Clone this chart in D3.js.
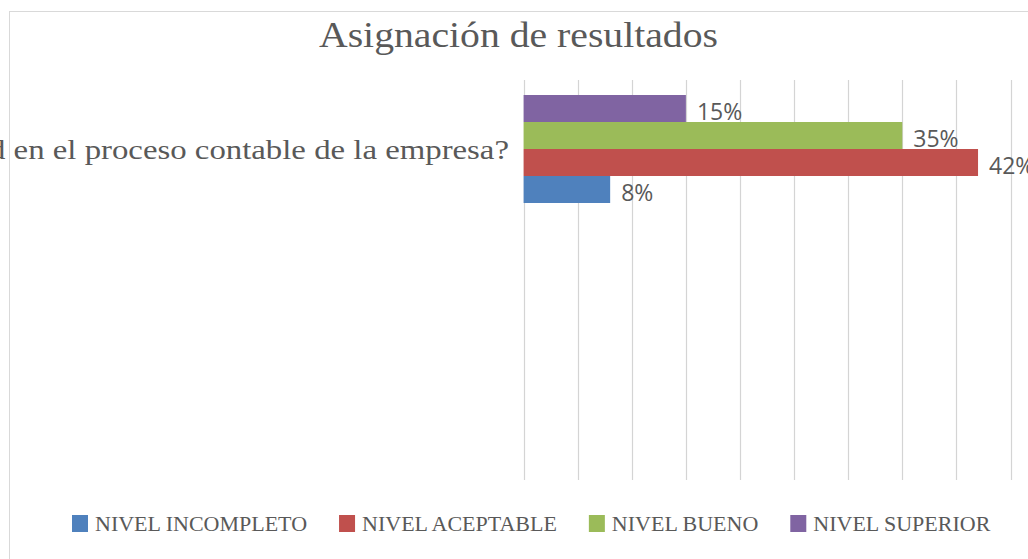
<!DOCTYPE html>
<html>
<head>
<meta charset="utf-8">
<script src="https://cdn.jsdelivr.net/npm/d3@7"></script>
<style>
  html, body { margin: 0; padding: 0; background: #ffffff; }
  svg { display: block; }
</style>
</head>
<body>
<div id="chart"></div>
<script>
// data
const categories = ['d en el proceso contable de la empresa?'];
const seriesNames = ['NIVEL INCOMPLETO', 'NIVEL ACEPTABLE', 'NIVEL BUENO', 'NIVEL SUPERIOR'];
const seriesColors = ['#4f81bd', '#c0504d', '#9bbb59', '#8064a2'];
const seriesValues = [0.08, 0.42, 0.35, 0.15];
const gridTicks = [0, 0.05, 0.10, 0.15, 0.20, 0.25, 0.30, 0.35, 0.40, 0.45];
const chartTitle = 'Asignación de resultados';

const W = 1028, H = 559;
const plotTop = 80, plotBottom = 480;
const textColor = '#595959';

const svg = d3.select('#chart').append('svg')
  .attr('width', W)
  .attr('height', H)
  .attr('viewBox', `0 0 ${W} ${H}`);

svg.append('rect')
  .attr('x', 9.5).attr('y', 11.5)
  .attr('width', 1100).attr('height', 600)
  .attr('fill', '#ffffff')
  .attr('stroke', '#d9d9d9');

const x = d3.scaleLinear().domain([0, 0.5]).range([523.6, 1064.6]);
const y = d3.scaleBand().domain(categories).range([95, 203]);
// Excel draws the first series at the bottom of the group
const ySeries = d3.scaleBand().domain(seriesNames.slice().reverse()).range([0, y.bandwidth()]);

svg.append('g')
  .selectAll('line')
  .data(gridTicks)
  .join('line')
  .attr('x1', d => Math.round(x(d)) + 0.5)
  .attr('x2', d => Math.round(x(d)) + 0.5)
  .attr('y1', plotTop)
  .attr('y2', plotBottom)
  .attr('stroke', '#d4d4d4')
  .attr('stroke-width', 1.2);

const bars = seriesNames.map((name, i) => ({
  name,
  value: seriesValues[i],
  color: seriesColors[i],
  category: categories[0],
}));

svg.append('g')
  .selectAll('rect')
  .data(bars)
  .join('rect')
  .attr('x', x(0))
  .attr('y', d => y(d.category) + ySeries(d.name))
  .attr('width', d => x(d.value) - x(0))
  .attr('height', ySeries.bandwidth())
  .attr('fill', d => d.color);

svg.append('g')
  .selectAll('text')
  .data(bars)
  .join('text')
  .attr('x', d => x(d.value) + 11)
  .attr('y', d => y(d.category) + ySeries(d.name) + ySeries.bandwidth() / 2 + 2)
  .attr('dominant-baseline', 'central')
  .attr('fill', textColor)
  .style('font-family', '"Open Sans", sans-serif')
  .style('font-size', '23px')
  .text(d => d3.format('.0%')(d.value));

// category label, cut by the left edge as in the reference
svg.append('g')
  .selectAll('text')
  .data(categories)
  .join('text')
  .attr('x', 509)
  .attr('y', d => y(d) + y.bandwidth() / 2 + 10)
  .attr('text-anchor', 'end')
  .attr('fill', textColor)
  .attr('textLength', 520)
  .attr('lengthAdjust', 'spacingAndGlyphs')
  .style('font-family', '"Liberation Serif", serif')
  .style('font-size', '28px')
  .text(d => d);

svg.append('text')
  .attr('x', 518.5)
  .attr('y', 47)
  .attr('text-anchor', 'middle')
  .attr('fill', textColor)
  .attr('textLength', 399)
  .attr('lengthAdjust', 'spacingAndGlyphs')
  .style('font-family', '"Liberation Serif", serif')
  .style('font-size', '36px')
  .text(chartTitle);

// legend
const legend = svg.append('g').attr('transform', 'translate(72,515)');
let lx = 0;
seriesNames.forEach((name, i) => {
  const item = legend.append('g').attr('transform', `translate(${lx},0)`);
  item.append('rect')
    .attr('width', 16).attr('height', 17)
    .attr('fill', seriesColors[i]);
  const t = item.append('text')
    .attr('x', 23)
    .attr('y', 16)
    .attr('fill', textColor)
    .style('font-family', '"Liberation Serif", serif')
    .style('font-size', '22px')
    .text(name);
  lx += 23 + t.node().getComputedTextLength() + 32;
});
</script>
</body>
</html>
